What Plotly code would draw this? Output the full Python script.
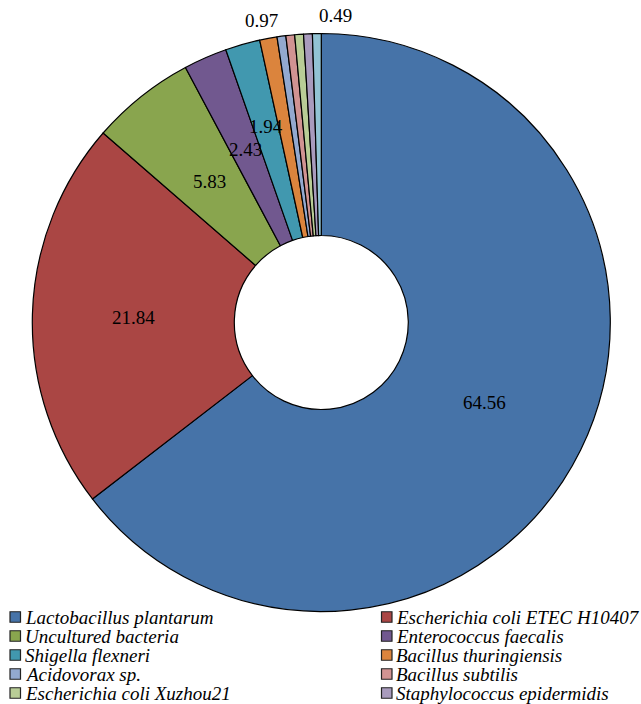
import math
import plotly.graph_objects as go

labels = ["Lactobacillus plantarum", "Escherichia coli ETEC H10407", "Uncultured bacteria",
          "Enterococcus faecalis", "Shigella flexneri", "Bacillus thuringiensis",
          "Acidovorax sp.", "Bacillus subtilis", "Escherichia coli Xuzhou21",
          "Staphylococcus epidermidis", "Other"]
values = [64.56, 21.84, 5.83, 2.43, 1.94, 0.97, 0.49, 0.49, 0.49, 0.49, 0.49]
colors = ["#4673A8", "#AA4644", "#89A54E", "#71588F", "#4198AF", "#DB843D",
          "#93A9CF", "#D19392", "#B9CD96", "#A99BBD", "#92C3D4"]
shown_labels = [0, 1, 2, 3, 4, 5, 10]   # slices whose value label is visible
legend_count = 10

W, H = 641, 704
cx, cy, R, r_hole = 321.3, 322.5, 289.0, 87.0
FONT = "Liberation Serif"

fig = go.Figure(go.Pie(
    labels=labels, values=values, sort=False, direction="clockwise", rotation=0,
    hole=r_hole / R,
    marker=dict(colors=colors, line=dict(color="black", width=1.2)),
    textinfo="none", hoverinfo="label+value",
    domain=dict(x=[(cx - R) / W, (cx + R) / W], y=[(H - cy - R) / H, (H - cy + R) / H]),
    showlegend=False,
))

annos = []
# value labels placed at each slice's mid-angle
label_radius = {0: 182, 1: 188, 2: 180, 3: 189, 4: 204, 5: 307, 10: 307}
label_anchor = {5: "center", 10: "left"}
total = sum(values)
cum = 0.0
for i, v in enumerate(values):
    mid = (cum + v / 2) / total * 2 * math.pi
    cum += v
    if i not in shown_labels:
        continue
    rad = label_radius[i]
    px = cx + rad * math.sin(mid)
    py = cy - rad * math.cos(mid)
    if i == 5:
        px -= 4
    annos.append(dict(xref="paper", yref="paper", x=px / W, y=1 - py / H,
                      xanchor=label_anchor.get(i, "center"), yanchor="middle",
                      showarrow=False, text=f"{v:.2f}",
                      font=dict(family=FONT, size=19, color="black")))

shapes = []
col_sq_x = [10, 381.5]
row_y0, row_dy, sq = 617, 19, 10.5
for i in range(legend_count):
    r, c = divmod(i, 2)
    yc = row_y0 + r * row_dy
    x0 = col_sq_x[c]
    shapes.append(dict(type="rect", xref="paper", yref="paper",
                       x0=x0 / W, x1=(x0 + sq) / W,
                       y0=1 - (yc + sq / 2) / H, y1=1 - (yc - sq / 2) / H,
                       fillcolor=colors[i], line=dict(color="#222222", width=1.2)))
    annos.append(dict(xref="paper", yref="paper", x=(x0 + sq + 2) / W, y=1 - yc / H,
                      xanchor="left", yanchor="middle", showarrow=False,
                      text="<i>" + labels[i] + "</i>",
                      font=dict(family=FONT, size=19, color="black")))

fig.update_layout(width=W, height=H, margin=dict(l=0, r=0, t=0, b=0),
                  paper_bgcolor="white", plot_bgcolor="white",
                  shapes=shapes, annotations=annos)
fig.write_html("out.html")
